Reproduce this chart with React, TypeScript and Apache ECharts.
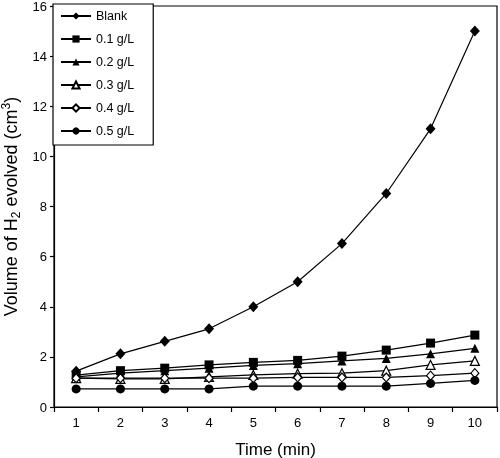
import React, { useEffect, useRef } from "react";
import * as echarts from "echarts";

const categories = ["1", "2", "3", "4", "5", "6", "7", "8", "9", "10"];
const blank = [1.43, 2.12, 2.62, 3.12, 4.0, 5.0, 6.52, 8.52, 11.1, 15.0];
const c01 = [1.27, 1.45, 1.55, 1.68, 1.78, 1.86, 2.03, 2.27, 2.55, 2.87];
const c02 = [1.2, 1.35, 1.45, 1.55, 1.66, 1.73, 1.84, 1.94, 2.12, 2.34];
const c03 = [1.15, 1.12, 1.12, 1.2, 1.28, 1.33, 1.35, 1.45, 1.68, 1.84];
const c04 = [1.15, 1.15, 1.15, 1.15, 1.15, 1.18, 1.18, 1.18, 1.25, 1.35];
const c05 = [0.72, 0.72, 0.72, 0.72, 0.83, 0.83, 0.83, 0.83, 0.94, 1.06];
const seriesNames = ["Blank", "0.1 g/L", "0.2 g/L", "0.3 g/L", "0.4 g/L", "0.5 g/L"];

const FONT = "Liberation Sans, Arial, sans-serif";

export default function App() {
  const ref = useRef<HTMLDivElement>(null);
  useEffect(() => {
    if (!ref.current) return;
    const chart = echarts.init(ref.current, undefined, { renderer: "svg" });
    const mk = (
      name: string,
      data: number[],
      symbol: string,
      size: number | number[],
      hollow: boolean
    ) => ({
      name,
      type: "line",
      data,
      symbol,
      symbolSize: size,
      showAllSymbol: true,
      lineStyle: { color: "#000", width: 1.2 },
      itemStyle: {
        color: hollow ? "#fff" : "#000",
        borderColor: "#000",
        borderWidth: hollow ? 1.2 : 0,
      },
      emphasis: { disabled: true },
    });
    chart.setOption({
      animation: false,
      textStyle: { fontFamily: FONT },
      grid: {
        left: 54,
        right: 3,
        top: 6,
        bottom: 51,
        containLabel: false,
        outerBoundsMode: "none",
        show: true,
        borderColor: "#000",
        borderWidth: 1.2,
        backgroundColor: "transparent",
      },
      legend: {
        orient: "vertical",
        left: 53,
        top: 4,
        padding: [5, 19, 7, 7],
        itemGap: 9,
        itemWidth: 30,
        itemHeight: 9,
        borderColor: "#000",
        borderWidth: 1.2,
        backgroundColor: "#fff",
        textStyle: { fontFamily: FONT, fontSize: 12.5, color: "#000", lineHeight: 14 },
        data: seriesNames,
      },
      xAxis: {
        type: "category",
        data: categories,
        boundaryGap: true,
        name: "Time (min)",
        nameLocation: "middle",
        nameGap: 33,
        nameTextStyle: { fontFamily: FONT, fontSize: 17, color: "#000", lineHeight: 18 },
        axisLine: { lineStyle: { color: "#000", width: 1.2 } },
        axisTick: { show: true, inside: false, length: 5, lineStyle: { color: "#000", width: 1.2 } },
        axisLabel: { fontFamily: FONT, fontSize: 13, color: "#000", margin: 9 },
        splitLine: { show: false },
      },
      yAxis: {
        type: "value",
        min: 0,
        max: 16,
        interval: 2,
        name: "{a|Volume of H}{s|2}{a| evolved (cm}{p|3}{a|)}",
        nameLocation: "middle",
        nameGap: 31,
        nameTextStyle: {
          fontFamily: FONT,
          color: "#000",
          rich: {
            a: { fontFamily: FONT, fontSize: 18, color: "#000", lineHeight: 22, verticalAlign: "middle" },
            s: { fontFamily: FONT, fontSize: 12, color: "#000", lineHeight: 12, verticalAlign: "bottom" },
            p: { fontFamily: FONT, fontSize: 12, color: "#000", lineHeight: 12, verticalAlign: "top" },
          },
        },
        axisLine: { show: true, lineStyle: { color: "#000", width: 1.2 } },
        axisTick: { show: true, inside: false, length: 4, lineStyle: { color: "#000", width: 1.2 } },
        axisLabel: { fontFamily: FONT, fontSize: 13, lineHeight: 13, color: "#000", margin: 7 },
        splitLine: { show: false },
      },
      series: [
        mk(seriesNames[0], blank, "diamond", [10, 11], false),
        mk(seriesNames[1], c01, "rect", 9, false),
        mk(seriesNames[2], c02, "triangle", 9, false),
        mk(seriesNames[3], c03, "triangle", 9, true),
        mk(seriesNames[4], c04, "diamond", [8, 9], true),
        mk(seriesNames[5], c05, "circle", 9, false),
      ],
    });
    return () => chart.dispose();
  }, []);
  return (
    <div
      ref={ref}
      style={{ position: "fixed", left: 0, top: 0, width: 500, height: 458 }}
    />
  );
}
